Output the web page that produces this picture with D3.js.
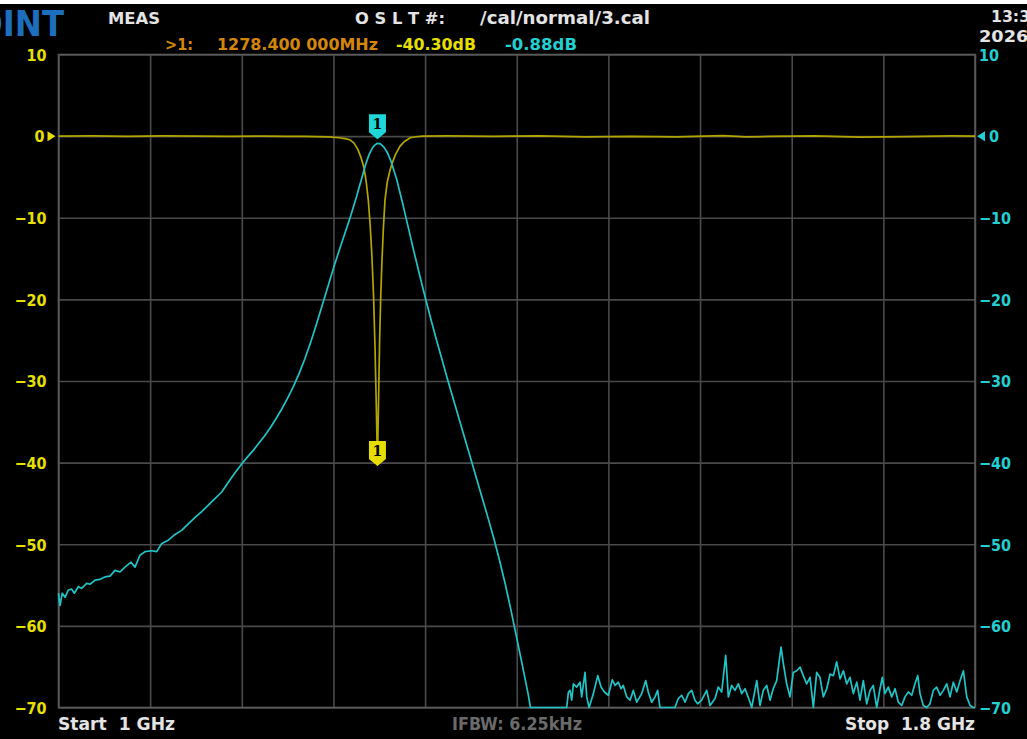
<!DOCTYPE html>
<html>
<head>
<meta charset="utf-8">
<script src="https://cdn.jsdelivr.net/npm/d3@7"></script>
<style>
  html, body { margin: 0; padding: 0; background: #ffffff; }
  svg { display: block; }
  text { font-family: "DejaVu Sans", sans-serif; font-weight: bold; }
</style>
</head>
<body>
<svg id="chart" width="1027" height="739"></svg>
<script>
// Sweep settings
const startMHz = 1000;
const stopMHz = 1800;
const freqGrid = [1000, 1080, 1160, 1240, 1320, 1400, 1480, 1560, 1640, 1720, 1800];
const dbTicks = [10, 0, -10, -20, -30, -40, -50, -60, -70];

// Trace 1 (reflection, yellow): frequency in MHz, level in dB
const s11Freq = [1000, 1030, 1060, 1090, 1120, 1150, 1180, 1200, 1215, 1225, 1235, 1245, 1250, 1254.4, 1258, 1261.4, 1264, 1266.7, 1268.5, 1270.4, 1272, 1273.5, 1275, 1276.3, 1277.4, 1278.4, 1279.4, 1280.3, 1281.3, 1282.3, 1283.5, 1285, 1287, 1289, 1291, 1294, 1298, 1302, 1307, 1312, 1318, 1340, 1380, 1420, 1460, 1500, 1540, 1580, 1600, 1620, 1660, 1700, 1740, 1780, 1800];
const s11Db   = [0, 0.02, -0.03, 0.02, 0, -0.02, 0, -0.02, -0.04, -0.06, -0.1, -0.2, -0.3, -0.45, -0.85, -1.65, -2.6, -3.9, -5.5, -7.8, -10.8, -14.5, -19.5, -26, -33, -40.3, -32, -25, -19.5, -15.5, -11.5, -7.8, -5.6, -4.4, -3.4, -2.3, -1.25, -0.65, -0.2, -0.08, 0, 0.02, -0.03, 0.03, -0.1, -0.02, -0.08, 0.05, -0.1, -0.04, 0.02, -0.12, -0.05, 0.02, 0];

// Trace 2 (transmission, cyan): frequency in MHz, level in dB
const s21Freq = [1000, 1001.3, 1003.3, 1005.7, 1008.6, 1011.5, 1013.8, 1017.3, 1020.2, 1024.6, 1027.5, 1031.9, 1036.2, 1040.6, 1045, 1049.3, 1053.7, 1058, 1063.3, 1066.8, 1071.1, 1075.5, 1081.4, 1085.7, 1090.1, 1095.9, 1101.7, 1107.5, 1113.3, 1119.2, 1125, 1130.8, 1136.6, 1142.5, 1148.2, 1154.1, 1160.2, 1165, 1170, 1175, 1180, 1185, 1190, 1195, 1200, 1205, 1210, 1215, 1220, 1225, 1230, 1235, 1240, 1245, 1250, 1255, 1260, 1265, 1268, 1271, 1274, 1276, 1278.4, 1281, 1284, 1287, 1290, 1295, 1300, 1305, 1310, 1315, 1320, 1325, 1330, 1335, 1340, 1345, 1350, 1355, 1360, 1365, 1370, 1375, 1380, 1385, 1390, 1395, 1400, 1405, 1410, 1412, 1420, 1430, 1443.6, 1445.1, 1446.5, 1448, 1449.4, 1452.3, 1455.2, 1456.7, 1459.6, 1461.1, 1463.1, 1466.9, 1470.7, 1473.6, 1476.5, 1480, 1483.4, 1485.8, 1488.7, 1491, 1493, 1496, 1498.9, 1501.8, 1504.7, 1509.1, 1512.6, 1514.8, 1517.8, 1520.7, 1523, 1525, 1529.4, 1538.1, 1541, 1544, 1546.9, 1549.8, 1552.7, 1555.6, 1557.9, 1561.4, 1565.8, 1568.7, 1573.1, 1575.9, 1578.9, 1582.4, 1584.7, 1587.6, 1590.5, 1593.4, 1596.4, 1599.3, 1603.6, 1605.1, 1609.5, 1612.3, 1615.2, 1618.2, 1621.1, 1623.9, 1626.9, 1630.7, 1632.7, 1635.6, 1638.5, 1641.4, 1644.4, 1647.3, 1650.1, 1653.1, 1656, 1658.9, 1661.8, 1664.7, 1667.6, 1670.6, 1673.5, 1676.4, 1679.3, 1682.2, 1685.1, 1688, 1690.9, 1693.8, 1696.8, 1699.6, 1702.5, 1705.5, 1708.4, 1711.2, 1714.2, 1717.1, 1719.1, 1721.4, 1724.3, 1727.3, 1730.2, 1733.1, 1736, 1738.9, 1741.8, 1744.8, 1747.6, 1750, 1752, 1754.9, 1757.8, 1760.7, 1763.6, 1766.6, 1769.5, 1772.4, 1775.3, 1778.2, 1781.1, 1784.1, 1787, 1789.9, 1792.8, 1795.7, 1798.6, 1800];
const s21Db   = [-56.0, -57.5, -56.0, -56.5, -55.6, -55.5, -56.0, -55.2, -55.4, -54.8, -54.9, -54.4, -54.3, -54.0, -53.9, -53.2, -53.4, -52.8, -52.2, -52.8, -51.35, -50.9, -50.8, -50.9, -49.9, -49.5, -48.8, -48.3, -47.5, -46.7, -46.0, -45.2, -44.4, -43.6, -42.4, -41.25, -40.1, -39.3, -38.5, -37.6, -36.7, -35.7, -34.6, -33.4, -32.1, -30.7, -29.1, -27.3, -25.3, -23.1, -20.8, -18.5, -16.2, -14.0, -11.9, -9.8, -7.5, -5.0, -3.5, -2.3, -1.45, -1.1, -0.88, -0.95, -1.35, -2.0, -3.0, -5.2, -8.0, -11.0, -14.0, -16.9, -19.7, -22.4, -25.0, -27.5, -30.0, -32.4, -34.8, -37.2, -39.6, -42.0, -44.4, -46.8, -49.3, -52.0, -54.9, -58.1, -61.5, -64.9, -68.4, -70, -70, -70, -70, -68.1, -67.9, -69.1, -67.1, -67.5, -66.9, -68.7, -65.7, -68.7, -70, -68.3, -66.1, -67.5, -68.1, -68.5, -66.6, -67.3, -66.9, -67.7, -67.3, -68.7, -69.1, -67.9, -69.35, -68.3, -66.7, -68.1, -69.35, -68.7, -67.9, -70, -70, -70, -68.9, -68.5, -69.35, -68.3, -67.9, -69.1, -69.55, -69.1, -67.9, -69.75, -68.9, -67.5, -68.1, -63.6, -68.7, -67.3, -67.9, -67.1, -68.3, -67.7, -69.35, -70, -66.7, -69.75, -67.9, -67.3, -69.1, -67.7, -66.7, -62.6, -64.6, -67.1, -68.7, -65.7, -65.5, -65.05, -66.1, -67.1, -66.3, -70, -65.7, -66.3, -68.7, -67.7, -65.9, -66.1, -64.4, -66.5, -65.5, -67.1, -66.3, -68.3, -66.9, -69.1, -66.7, -69.55, -67.9, -67.3, -70, -67.7, -66.3, -68.3, -67.5, -68.7, -67.7, -69.35, -69.75, -68.7, -68.1, -68.5, -67.1, -66.1, -68.3, -69.75, -70, -69.55, -67.9, -67.5, -68.5, -67.9, -67.1, -68.7, -66.9, -68.1, -66.7, -65.5, -68.7, -69.75, -70, -70];

// Marker 1
const markerMHz = 1278.4;
const markerS11 = -40.30;
const markerS21 = -0.88;

const svg = d3.select("#chart");
const W = 1027, H = 739;
const plot = { left: 58.5, right: 975, top: 54.5, bottom: 707.5 };

const COL = {
  bg: "#000000",
  grid: "#4a4a4a",
  frame: "#5a5a5a",
  yellowTrace: "#b3a500",
  yellowText: "#e6e000",
  cyanTrace: "#1fc4c6",
  cyanText: "#22d0d2",
  white: "#e4e4e4",
  orange: "#d4860a",
  gray: "#6a6a6a",
  blue: "#1c6fbd"
};

svg.append("rect").attr("x", 0).attr("y", 0).attr("width", W).attr("height", H).attr("fill", "#ffffff");
svg.append("rect").attr("x", 0).attr("y", 4).attr("width", W).attr("height", H - 4).attr("fill", COL.bg);

const x = d3.scaleLinear().domain([startMHz, stopMHz]).range([plot.left, plot.right]);
const y = d3.scaleLinear().domain([-70, 10]).range([plot.bottom, plot.top]).clamp(true);

// Grid
const gridG = svg.append("g");
gridG.append("g")
  .attr("transform", `translate(0,${plot.bottom})`)
  .call(d3.axisBottom(x).tickValues(freqGrid).tickSize(-(plot.bottom - plot.top)).tickFormat(""))
  .call(g => g.select(".domain").remove())
  .call(g => g.selectAll("line").attr("stroke", COL.grid).attr("stroke-width", 1.6));
gridG.append("g")
  .attr("transform", `translate(${plot.left},0)`)
  .call(d3.axisLeft(y).tickValues(dbTicks).tickSize(-(plot.right - plot.left)).tickFormat(""))
  .call(g => g.select(".domain").remove())
  .call(g => g.selectAll("line").attr("stroke", COL.grid).attr("stroke-width", 1.6));
svg.append("rect")
  .attr("x", plot.left).attr("y", plot.top)
  .attr("width", plot.right - plot.left).attr("height", plot.bottom - plot.top)
  .attr("fill", "none").attr("stroke", COL.frame).attr("stroke-width", 1.6);

// Left (trace 1) scale labels
const labelFont = "'DejaVu Sans Condensed', 'DejaVu Sans', sans-serif";
const leftAxis = svg.append("g")
  .attr("transform", `translate(${plot.left - 12},0)`)
  .call(d3.axisLeft(y).tickValues(dbTicks).tickSize(0).tickPadding(0).tickFormat(d3.format("d")));
leftAxis.select(".domain").remove();
leftAxis.selectAll("text")
  .attr("fill", COL.yellowText).attr("font-size", 16).attr("font-weight", "bold")
  .attr("dy", "0.36em").style("font-family", labelFont);

// Right (trace 2) scale labels
const rightAxis = svg.append("g")
  .attr("transform", `translate(${plot.right + 4},0)`)
  .call(d3.axisRight(y).tickValues(dbTicks).tickSize(0).tickPadding(0).tickFormat(d3.format("d")));
rightAxis.select(".domain").remove();
rightAxis.selectAll("text")
  .attr("fill", COL.cyanText).attr("font-size", 16).attr("font-weight", "bold")
  .attr("dy", "0.36em").style("font-family", labelFont);
// shift the "0" labels to leave room for the reference arrows
leftAxis.selectAll(".tick").filter(d => d === 0).select("text").attr("x", -2);
rightAxis.selectAll(".tick").filter(d => d === 0).select("text").attr("x", 10);

// Reference level arrows
svg.append("path")
  .attr("d", d3.line()([[plot.left - 11, y(0) - 5], [plot.left - 3, y(0)], [plot.left - 11, y(0) + 5]]) + "Z")
  .attr("fill", COL.yellowText);
svg.append("path")
  .attr("d", d3.line()([[plot.right + 10, y(0) - 5], [plot.right + 2, y(0)], [plot.right + 10, y(0) + 5]]) + "Z")
  .attr("fill", COL.cyanText);

// Traces
const s11 = s11Freq.map((f, i) => [f, s11Db[i]]);
const s21 = s21Freq.map((f, i) => [f, s21Db[i]]);
const line = d3.line().x(d => x(d[0])).y(d => y(d[1]));

svg.append("path").datum(s11)
  .attr("d", line).attr("fill", "none")
  .attr("stroke", COL.yellowTrace).attr("stroke-width", 1.7).attr("stroke-linejoin", "round");
svg.append("path").datum(s21)
  .attr("d", line).attr("fill", "none")
  .attr("stroke", COL.cyanTrace).attr("stroke-width", 1.7).attr("stroke-linejoin", "round");

// Marker flags (pointing down at the marked sample)
function flag(cx, tipY, fill) {
  const w = 17, h = 18, p = 7;
  const top = tipY - h - p;
  const pts = [[cx - w / 2, top], [cx + w / 2, top], [cx + w / 2, top + h], [cx, tipY], [cx - w / 2, top + h]];
  svg.append("path").attr("d", d3.line()(pts) + "Z").attr("fill", fill);
  svg.append("text").attr("x", cx).attr("y", top + 15).attr("text-anchor", "middle")
    .attr("font-size", 14).attr("font-weight", "bold").attr("fill", "#000")
    .style("font-family", "'DejaVu Serif', serif").text("1");
}
flag(x(markerMHz), y(markerS21) - 4, "#1fd6d8");
flag(x(markerMHz), y(markerS11) + 1, "#e6dc00");

// Text helper with a fixed drawn width
function label(txt, x0, y0, len, size, fill, opts = {}) {
  const t = svg.append("text").attr("x", x0).attr("y", y0)
    .attr("font-size", size).attr("fill", fill).text(txt);
  if (len) t.attr("textLength", len).attr("lengthAdjust", "spacingAndGlyphs");
  if (opts.family) t.style("font-family", opts.family);
  if (opts.space) t.attr("xml:space", "preserve");
  if (opts.anchor) t.attr("text-anchor", opts.anchor);
  return t;
}

// Header
label("POINT", 64, 36, null, 36, COL.blue, { family: labelFont, anchor: "end" });
label("MEAS", 108, 24, 52, 16, COL.white);
label("O S L T #:", 355, 24, 90, 16, COL.white, { space: true });
label("/cal/normal/3.cal", 480, 24, 170, 17, COL.white);
label("13:35", 991, 22, 50, 16, COL.white);
label("2026.", 979, 42, 56, 15, COL.white);

label(">1:", 165, 50, 28, 16, COL.orange);
label(`${markerMHz.toFixed(3)} 000MHz`, 217, 50, 161, 16, COL.orange);
label(`${markerS11.toFixed(2)}dB`, 396, 50, 80, 16, COL.yellowText);
label(`${markerS21.toFixed(2)}dB`, 505, 50, 72, 16, COL.cyanText);

// Footer
label("Start  1 GHz", 58, 730, 117, 17, COL.white, { family: labelFont, space: true });
label("IFBW: 6.25kHz", 452, 730, 130, 17, COL.gray, { family: labelFont });
label("Stop  1.8 GHz", 845, 730, 130, 17, COL.white, { family: labelFont, space: true });
</script>
</body>
</html>
